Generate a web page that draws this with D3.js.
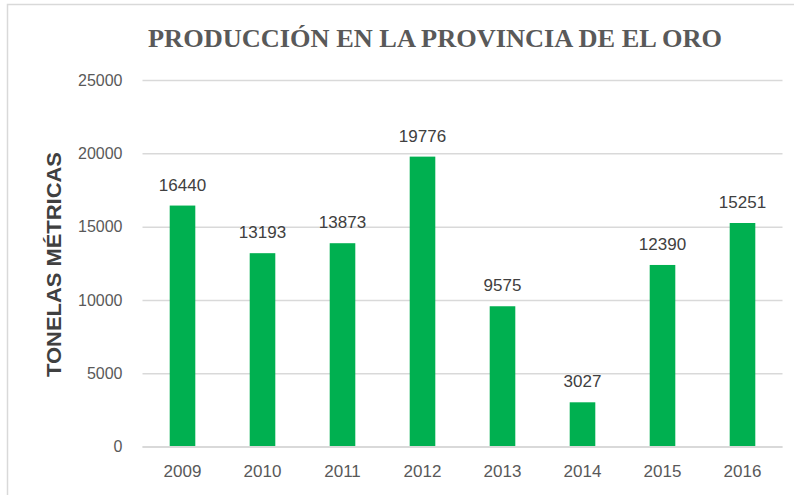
<!DOCTYPE html>
<html><head><meta charset="utf-8">
<script src="https://cdn.jsdelivr.net/npm/d3@7"></script>
<style>html,body{margin:0;padding:0;background:#fff;}</style>
</head><body>
<script>
const years = ["2009","2010","2011","2012","2013","2014","2015","2016"];
const values = [16440,13193,13873,19776,9575,3027,12390,15251];
const yTicks = [0,5000,10000,15000,20000,25000];
const title = "PRODUCCIÓN EN LA PROVINCIA DE EL ORO";
const yTitle = "TONELAS MÉTRICAS";

const W = 794, H = 495;
const svg = d3.select("body").append("svg").attr("width", W).attr("height", H);

svg.append("rect").attr("x", 7.5).attr("y", 4.5).attr("width", W + 10).attr("height", H + 10)
  .attr("fill", "#fff").attr("stroke", "#d9d9d9").attr("stroke-width", 1.5);

const pLeft = 142.5, pRight = 782.5, pTop = 80, pBottom = 446.7;
const x = d3.scaleBand().domain(years).range([pLeft, pRight]).paddingInner(0.68).paddingOuter(0.34);
const y = d3.scaleLinear().domain([0, 25000]).range([pBottom, pTop]);

// gridlines
const yAxis = d3.axisLeft(y).tickValues(yTicks).tickSize(-(pRight - pLeft)).tickFormat(d3.format("d")).tickPadding(20);
const gy = svg.append("g").attr("transform", `translate(${pLeft},0)`).call(yAxis);
gy.select(".domain").remove();
gy.selectAll(".tick line").attr("stroke", "#d9d9d9").attr("stroke-width", 1.5);
gy.selectAll(".tick text").attr("fill", "#595959").style("font-family", "'Liberation Sans', Arial, sans-serif").style("font-size", "16px");

// bars
svg.selectAll(".bar").data(values).enter().append("rect")
  .attr("x", (d, i) => x(years[i]))
  .attr("y", d => y(d))
  .attr("width", x.bandwidth())
  .attr("height", d => y(0) - y(d))
  .attr("fill", "#00B050");

// x axis
const xAxis = d3.axisBottom(x).tickSize(0).tickPadding(18);
const gx = svg.append("g").attr("transform", `translate(0,${pBottom})`).call(xAxis);
gx.select(".domain").attr("stroke", "#d9d9d9").attr("stroke-width", 1.5).attr("d", `M${pLeft},0H${pRight}`);
gx.selectAll(".tick text").attr("fill", "#595959").style("font-family", "'Liberation Sans', Arial, sans-serif").style("font-size", "17px");

// data labels
svg.selectAll(".lbl").data(values).enter().append("text")
  .attr("x", (d, i) => x(years[i]) + x.bandwidth() / 2)
  .attr("y", d => y(d) - 15)
  .attr("text-anchor", "middle")
  .attr("fill", "#404040")
  .style("font-family", "'Liberation Sans', Arial, sans-serif").style("font-size", "17px")
  .text(d => d);

// title
svg.append("text").attr("x", 435).attr("y", 47).attr("text-anchor", "middle")
  .attr("fill", "#595959")
  .style("font-family", "'Liberation Serif', 'Times New Roman', serif").style("font-weight", "bold").style("font-size", "25px")
  .attr("textLength", 574).attr("lengthAdjust", "spacingAndGlyphs")
  .text(title);

// y title
svg.append("text").attr("transform", "translate(61,264.5) rotate(-90)").attr("text-anchor", "middle")
  .attr("fill", "#404040")
  .style("font-family", "'Liberation Sans', Arial, sans-serif").style("font-weight", "bold").style("font-size", "21px")
  .attr("textLength", 225).attr("lengthAdjust", "spacingAndGlyphs")
  .text(yTitle);
</script>
</body></html>
